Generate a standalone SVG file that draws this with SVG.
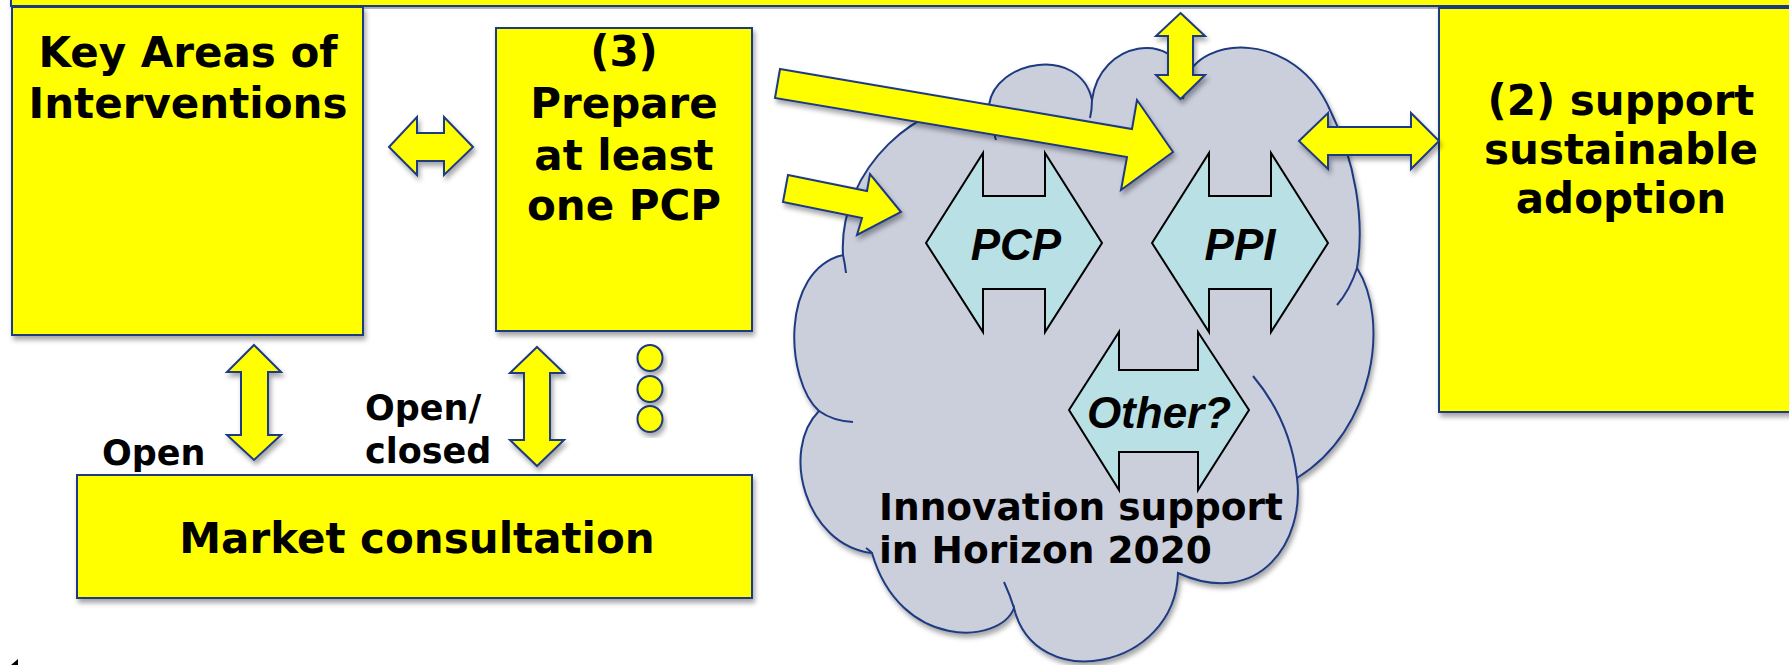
<svg xmlns="http://www.w3.org/2000/svg" width="1789" height="665" viewBox="0 0 1789 665">
<defs>
<filter id="sh" x="-10%" y="-10%" width="130%" height="130%">
<feDropShadow dx="2" dy="4" stdDeviation="2.5" flood-color="#000" flood-opacity="0.35"/>
</filter>
<style>
.box{fill:#FFFF00;stroke:#1F3A80;stroke-width:2;filter:url(#sh)}
.ya{fill:#FFFF00;stroke:#1F3A80;stroke-width:2;stroke-linejoin:miter;filter:url(#sh)}
.ca{fill:#B9E0E4;stroke:#000;stroke-width:2;stroke-linejoin:miter}
.cl{fill:#CBCFDC;stroke:#1F3A80;stroke-width:2;filter:url(#sh)}
.ci{fill:none;stroke:#1F3A80;stroke-width:2}
.t{font-family:"DejaVu Sans",Verdana,sans-serif;font-weight:bold;fill:#000;text-anchor:middle}
.big{font-size:42px}
.lab{font-size:35px;text-anchor:start}
.it{font-family:"Liberation Sans",Arial,sans-serif;font-weight:bold;font-style:italic;font-size:44px;fill:#000;text-anchor:middle}
</style>
</defs>
<rect width="1789" height="665" fill="#FFFFFF"/>

<g id="banner">
<rect class="box" x="11" y="-6" width="1800" height="12"/>
</g>

<g id="key-areas">
<rect class="box" x="12" y="7" width="351" height="328"/>
<text class="t big" x="188" y="67">Key Areas of</text>
<text class="t big" x="188" y="118">Interventions</text>
</g>

<g id="prepare-pcp">
<rect class="box" x="496" y="28" width="256" height="303"/>
<text class="t big" x="624" y="66">(3)</text>
<text class="t big" x="624" y="118">Prepare</text>
<text class="t big" x="624" y="170">at least</text>
<text class="t big" x="624" y="220">one PCP</text>
</g>

<g id="market-consultation">
<rect class="box" x="77" y="475" width="675" height="123"/>
<text class="t big" x="417" y="553">Market consultation</text>
</g>

<g id="support-adoption">
<rect class="box" x="1439" y="8" width="370" height="404"/>
<text class="t big" x="1621" y="115">(2) support</text>
<text class="t big" x="1621" y="164">sustainable</text>
<text class="t big" x="1621" y="213">adoption</text>
</g>

<g id="cloud">
<path class="cl" d="M843,255 C838,170 920,95 989,105 C995,60 1080,45 1092,100 C1100,40 1175,30 1186,80 C1200,35 1295,30 1330,110 C1355,160 1365,220 1357,268 C1390,320 1375,430 1297,478 C1305,540 1260,610 1178,573 C1175,670 1035,695 1014,608 C1000,645 900,650 872,553 C805,545 780,450 819,411 C785,380 780,270 843,255 Z"/>
<path class="ci" d="M843,255 Q845,264 846,273"/>
<path class="ci" d="M989,105 Q991,125 996,140"/>
<path class="ci" d="M1092,100 Q1092,110 1090,118"/>
<path class="ci" d="M1186,80 Q1185,90 1183,99"/>
<path class="ci" d="M1357,268 Q1350,290 1337,305"/>
<path class="ci" d="M1253,376 Q1290,420 1297,478"/>
<path class="ci" d="M1004,582 Q1010,595 1014,608"/>
<path class="ci" d="M819,411 Q833,421 853,422"/>
<path class="ci" d="M872,553 Q869,550 866,548"/>
<text class="t" style="font-size:37.5px;text-anchor:start" x="879" y="520">Innovation support</text>
<text class="t" style="font-size:37.5px;text-anchor:start" x="879" y="563">in Horizon 2020</text>
</g>

<g id="pcp">
<polygon class="ca" points="926,243 983,153 983,196 1045,196 1045,153 1102,243 1045,332 1045,289 983,289 983,332"/>
<text class="it" x="1016" y="260">PCP</text>
</g>

<g id="ppi">
<polygon class="ca" points="1152,243 1209,153 1209,196 1271,196 1271,153 1328,243 1271,332 1271,289 1209,289 1209,332"/>
<text class="it" x="1240" y="260">PPI</text>
</g>

<g id="other">
<polygon class="ca" points="1069,410 1119,332 1119,370 1198,370 1198,332 1249,410 1198,490 1198,452 1119,452 1119,490"/>
<text class="it" x="1159" y="428">Other?</text>
</g>

<g id="connectors">
<polygon class="ya" points="389,147 417,117 417,133 444,133 444,117 473,147 444,175 444,161 417,161 417,175"/>
<polygon class="ya" points="780,69 1132,129 1137,100 1173,152 1121,190 1127,157 775,98"/>
<polygon class="ya" points="788,175 867,191 870,174 901,212 857,235 862,218 783,202"/>
<polygon class="ya" points="1180.5,13 1205,36 1193,36 1193,75 1205,75 1180.5,99 1156,75 1168,75 1168,36 1156,36"/>
<polygon class="ya" points="1299,141 1328,113 1328,127 1411,127 1411,113 1439,141 1411,169 1411,155 1328,155 1328,169"/>
<polygon class="ya" points="254,345 281,372 268,372 268,435 281,435 254,460 227,435 241,435 241,372 227,372"/>
<polygon class="ya" points="537,347 564,373 550,373 550,440 564,440 537,466 510,440 524,440 524,373 510,373"/>
</g>

<g id="labels">
<text class="t lab" x="102" y="465">Open</text>
<text class="t lab" x="365" y="420">Open/</text>
<text class="t lab" x="365" y="463">closed</text>
</g>

<g id="dots">
<ellipse class="ya" cx="650" cy="358" rx="12.5" ry="13"/>
<ellipse class="ya" cx="650" cy="389" rx="12.5" ry="13"/>
<ellipse class="ya" cx="650" cy="419" rx="12.5" ry="13"/>
</g>

<polygon points="11,665 18,659 18,665" fill="#000"/>
</svg>
